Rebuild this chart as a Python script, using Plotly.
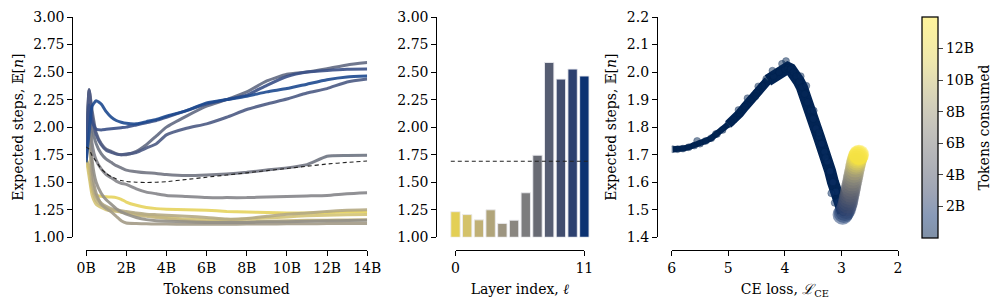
import plotly.graph_objects as go
import numpy as np

# ---------------- data ----------------
tokens_b = [0, 0.15, 0.3, 0.5, 0.75, 1, 1.25, 1.5, 1.75, 2, 2.5, 3, 3.5, 4, 5, 6, 7, 8, 9, 10, 11, 12, 13, 14]

layer0 = [1.72, 1.60, 1.42, 1.38, 1.372, 1.368, 1.365, 1.36, 1.345, 1.32, 1.29, 1.27, 1.26, 1.255, 1.25, 1.245, 1.235, 1.23, 1.225, 1.22, 1.22, 1.225, 1.23, 1.232]
layer1 = [1.72, 1.55, 1.38, 1.30, 1.27, 1.25, 1.24, 1.235, 1.23, 1.22, 1.21, 1.20, 1.19, 1.18, 1.165, 1.16, 1.16, 1.165, 1.175, 1.185, 1.195, 1.20, 1.205, 1.206]
layer2 = [1.70, 1.65, 1.45, 1.33, 1.29, 1.27, 1.25, 1.24, 1.23, 1.22, 1.20, 1.19, 1.18, 1.17, 1.15, 1.14, 1.14, 1.14, 1.145, 1.15, 1.155, 1.155, 1.157, 1.158]
layer3 = [1.72, 1.90, 1.50, 1.37, 1.31, 1.28, 1.26, 1.25, 1.24, 1.235, 1.22, 1.21, 1.205, 1.20, 1.19, 1.18, 1.165, 1.17, 1.19, 1.21, 1.22, 1.235, 1.245, 1.249]
layer4 = [1.70, 2.20, 1.60, 1.40, 1.30, 1.26, 1.23, 1.19, 1.15, 1.13, 1.125, 1.122, 1.12, 1.12, 1.118, 1.118, 1.118, 1.12, 1.12, 1.122, 1.122, 1.124, 1.125, 1.126]
layer5 = [1.70, 2.30, 1.70, 1.50, 1.40, 1.34, 1.30, 1.26, 1.23, 1.21, 1.18, 1.16, 1.15, 1.145, 1.14, 1.135, 1.135, 1.135, 1.14, 1.14, 1.145, 1.15, 1.152, 1.155]
layer6 = [1.70, 2.28, 1.85, 1.70, 1.62, 1.57, 1.54, 1.51, 1.49, 1.48, 1.44, 1.41, 1.395, 1.38, 1.37, 1.36, 1.36, 1.36, 1.365, 1.37, 1.375, 1.38, 1.395, 1.404]
layer7 = [1.72, 2.32, 2.00, 1.85, 1.76, 1.71, 1.68, 1.65, 1.63, 1.61, 1.595, 1.585, 1.58, 1.57, 1.56, 1.565, 1.575, 1.59, 1.61, 1.63, 1.66, 1.735, 1.742, 1.745]
layer8 = [1.75, 2.34, 2.15, 1.95, 1.85, 1.80, 1.78, 1.76, 1.75, 1.75, 1.78, 1.84, 1.92, 2.00, 2.10, 2.19, 2.25, 2.32, 2.42, 2.48, 2.50, 2.53, 2.565, 2.587]
layer9 = [1.74, 2.34, 2.10, 1.93, 1.84, 1.79, 1.77, 1.755, 1.75, 1.755, 1.77, 1.81, 1.85, 1.93, 1.99, 2.03, 2.09, 2.16, 2.21, 2.255, 2.31, 2.35, 2.41, 2.436]
layer10 = [1.72, 2.20, 2.05, 1.98, 1.975, 1.98, 1.985, 1.99, 1.995, 2.00, 2.02, 2.04, 2.06, 2.09, 2.15, 2.21, 2.25, 2.29, 2.38, 2.46, 2.50, 2.515, 2.525, 2.527]
layer11 = [1.68, 1.95, 2.19, 2.24, 2.21, 2.14, 2.09, 2.06, 2.045, 2.035, 2.03, 2.05, 2.07, 2.10, 2.15, 2.22, 2.25, 2.28, 2.32, 2.35, 2.39, 2.43, 2.455, 2.464]
mean_curve = [1.82, 1.80, 1.74, 1.69, 1.62, 1.58, 1.55, 1.53, 1.515, 1.506, 1.50, 1.497, 1.50, 1.505, 1.525, 1.545, 1.565, 1.585, 1.605, 1.625, 1.645, 1.665, 1.68, 1.692]
layer_curves = [layer0, layer1, layer2, layer3, layer4, layer5, layer6, layer7, layer8, layer9, layer10, layer11]

layers = list(range(12))
layer_steps = [1.232, 1.206, 1.158, 1.249, 1.126, 1.155, 1.404, 1.745, 2.587, 2.436, 2.527, 2.464]

# right panel: CE loss vs expected steps, coloured by tokens consumed (B)
dark_loss = [5.98, 5.90, 5.80, 5.70, 5.60, 5.50, 5.40, 5.30, 5.20, 5.10, 5.00, 4.90, 4.80, 4.70, 4.60, 4.50, 4.40, 4.30, 4.20, 4.10, 4.00, 3.95, 3.90, 3.85, 3.80, 3.75, 3.70, 3.65, 3.60, 3.55, 3.50, 3.45, 3.40, 3.35, 3.30, 3.25, 3.20, 3.15, 3.10, 3.05, 3.00, 2.97]
dark_steps = [1.720, 1.720, 1.722, 1.727, 1.733, 1.740, 1.750, 1.760, 1.775, 1.790, 1.810, 1.828, 1.850, 1.875, 1.900, 1.925, 1.950, 1.970, 1.985, 2.000, 2.010, 2.015, 2.010, 2.000, 1.985, 1.965, 1.945, 1.920, 1.890, 1.860, 1.830, 1.795, 1.765, 1.740, 1.710, 1.675, 1.640, 1.600, 1.565, 1.530, 1.505, 1.490]
dark_tokens = [0.02, 0.03, 0.04, 0.05, 0.06, 0.07, 0.08, 0.09, 0.10, 0.11, 0.12, 0.13, 0.14, 0.15, 0.16, 0.17, 0.18, 0.19, 0.20, 0.22, 0.24, 0.26, 0.28, 0.30, 0.33, 0.36, 0.39, 0.42, 0.46, 0.50, 0.55, 0.60, 0.66, 0.72, 0.79, 0.86, 0.94, 1.02, 1.11, 1.21, 1.32, 1.45]
# scattered outlying samples seen along the band edges
edge_loss = [5.55, 5.22, 4.95, 4.82, 4.66, 4.52, 4.47, 4.33, 4.22, 4.05, 3.98, 3.72, 3.62, 3.49, 3.40, 3.28, 3.18, 3.12, 3.02]
edge_steps = [1.750, 1.775, 1.818, 1.862, 1.905, 1.912, 1.948, 1.975, 2.005, 2.030, 2.040, 1.985, 1.950, 1.860, 1.780, 1.690, 1.560, 1.525, 1.515]
edge_tokens = [0.07, 0.09, 0.12, 0.13, 0.15, 0.17, 0.18, 0.19, 0.20, 0.23, 0.25, 0.37, 0.44, 0.56, 0.66, 0.80, 0.94, 1.08, 1.27]

rise_loss = [2.98, 2.96, 2.94, 2.92, 2.905, 2.89, 2.88, 2.87, 2.86, 2.85, 2.84, 2.83, 2.82, 2.81, 2.80, 2.79, 2.78, 2.77, 2.76, 2.75, 2.74, 2.73, 2.72, 2.71, 2.70, 2.69]
rise_steps = [1.482, 1.488, 1.495, 1.503, 1.513, 1.523, 1.533, 1.543, 1.553, 1.563, 1.573, 1.583, 1.593, 1.603, 1.613, 1.623, 1.633, 1.643, 1.653, 1.663, 1.671, 1.679, 1.686, 1.692, 1.697, 1.700]
rise_tokens = [1.6, 1.8, 2.0, 2.3, 2.6, 2.9, 3.2, 3.5, 3.9, 4.3, 4.7, 5.1, 5.6, 6.1, 6.6, 7.1, 7.7, 8.3, 8.9, 9.6, 10.3, 11.0, 11.7, 12.4, 13.1, 13.8]

token_ticks = [0, 2, 4, 6, 8, 10, 12, 14]
token_ticktext = ["0B", "2B", "4B", "6B", "8B", "10B", "12B", "14B"]
cbar_ticks = [2, 4, 6, 8, 10, 12]
cbar_ticktext = ["2B", "4B", "6B", "8B", "10B", "12B"]
steps_ticks = [1.0, 1.25, 1.5, 1.75, 2.0, 2.25, 2.5, 2.75, 3.0]
steps_ticktext = ["1.00", "1.25", "1.50", "1.75", "2.00", "2.25", "2.50", "2.75", "3.00"]
right_yticks = [1.4, 1.5, 1.6, 1.7, 1.8, 1.9, 2.0, 2.1, 2.2]
right_yticktext = ["1.4", "1.5", "1.6", "1.7", "1.8", "1.9", "2.0", "2.1", "2.2"]
loss_ticks = [6, 5, 4, 3, 2]

# ---------------- styles ----------------
layer_colors = ["#e3cf55", "#d4c26a", "#c0b075", "#b0a47a", "#9c9480", "#8a8680",
                "#7c7c7e", "#686a73", "#565d72", "#414d6e", "#2c406f", "#0c3272"]
line_colors = ["#e6d35e", "#d4c476", "#c4b680", "#b5aa84", "#a39c88", "#939088",
               "#85858a", "#727582", "#626a82", "#4e5c85", "#3a5088", "#1d4a90"]
cividis_a = [
    [0.0, "rgba(0,34,78,0.5)"], [0.1, "rgba(18,53,112,0.5)"], [0.2, "rgba(59,73,108,0.5)"],
    [0.3, "rgba(87,93,109,0.5)"], [0.4, "rgba(112,113,115,0.5)"], [0.5, "rgba(138,135,121,0.5)"],
    [0.6, "rgba(165,158,117,0.5)"], [0.7, "rgba(194,183,106,0.5)"], [0.8, "rgba(222,208,91,0.5)"],
    [0.9, "rgba(240,222,72,0.5)"], [1.0, "rgba(254,232,56,0.5)"]]

FONT = "DejaVu Serif"
W, H = 996, 304
def xd(a, b):
    return [a / W, b / W]
ydom = [(H - 242) / H, (H - 9.5) / H]
xline_pos = (H - 255) / H

fig = go.Figure()

# left panel
for i, curve in enumerate(layer_curves):
    fig.add_trace(go.Scatter(x=tokens_b, y=curve, mode="lines", xaxis="x", yaxis="y",
                             line=dict(color=line_colors[i], width=3, shape="spline", smoothing=0.5),
                             opacity=0.9, showlegend=False, hoverinfo="skip"))
fig.add_trace(go.Scatter(x=tokens_b, y=mean_curve, mode="lines", xaxis="x", yaxis="y",
                         line=dict(color="#222222", width=1.1, dash="4px,3px", shape="spline", smoothing=0.5),
                         showlegend=False, hoverinfo="skip"))

# middle panel
bar_w = 0.8
fig.add_trace(go.Bar(x=layers, y=[v - 1.0 for v in layer_steps], base=1.0, width=bar_w,
                     marker=dict(color=layer_colors, line=dict(color="rgba(235,235,240,0.9)", width=1)),
                     xaxis="x2", yaxis="y2", showlegend=False, hoverinfo="skip"))
mean_val = float(np.mean(layer_steps))
fig.add_trace(go.Scatter(x=[layers[0] - bar_w / 2, layers[-1] + bar_w / 2], y=[mean_val, mean_val],
                         mode="lines", line=dict(color="#222222", width=1.1, dash="4px,3px"),
                         xaxis="x2", yaxis="y2", showlegend=False, hoverinfo="skip"))
fig.add_trace(go.Scatter(x=[layers[0], layers[-1]], y=[None, None], mode="markers",
                         xaxis="x4", yaxis="y2", showlegend=False, hoverinfo="skip"))

# right panel: band underlay (thin at start, thicker after)
n_a, n_b = 11, 18
fig.add_trace(go.Scatter(x=dark_loss[:n_a], y=dark_steps[:n_a], mode="lines", xaxis="x3", yaxis="y3",
                         line=dict(color="rgb(2,36,84)", width=6), showlegend=False, hoverinfo="skip"))
fig.add_trace(go.Scatter(x=dark_loss[n_a - 1:n_b], y=dark_steps[n_a - 1:n_b], mode="lines", xaxis="x3", yaxis="y3",
                         line=dict(color="rgb(2,36,84)", width=9), showlegend=False, hoverinfo="skip"))
fig.add_trace(go.Scatter(x=dark_loss[n_b - 1:], y=dark_steps[n_b - 1:], mode="lines", xaxis="x3", yaxis="y3",
                         line=dict(color="rgb(2,36,84)", width=12), showlegend=False, hoverinfo="skip"))
fig.add_trace(go.Scatter(x=dark_loss + edge_loss, y=dark_steps + edge_steps, mode="markers", xaxis="x3", yaxis="y3",
                         marker=dict(size=7, color=dark_tokens + edge_tokens, colorscale=cividis_a, cmin=0, cmax=14,
                                     line=dict(width=0.6, color="rgba(0,34,78,0.5)")),
                         showlegend=False, hoverinfo="skip"))
fig.add_trace(go.Scatter(x=rise_loss, y=rise_steps, mode="markers", xaxis="x3", yaxis="y3",
                         marker=dict(size=20, color=rise_tokens, colorscale=cividis_a, cmin=0, cmax=14,
                                     line=dict(width=0),
                                     colorbar=dict(x=935 / W, xanchor="left", y=(H - 9.5) / H, yanchor="top",
                                                   len=(243 - 9.5) / H, lenmode="fraction",
                                                   thickness=16, thicknessmode="pixels",
                                                   xpad=0, ypad=0, outlinewidth=1.25, outlinecolor="black",
                                                   ticks="outside", ticklen=5, tickwidth=1.25,
                                                   tickvals=cbar_ticks, ticktext=cbar_ticktext,
                                                   tickfont=dict(family=FONT, size=14, color="black"),
                                                   title=dict(text="Tokens consumed", side="right",
                                                              font=dict(family=FONT, size=14, color="black")))),
                         showlegend=False, hoverinfo="skip"))

axis_common = dict(showgrid=False, zeroline=False, showline=True, linecolor="black", linewidth=1.25,
                   ticks="outside", ticklen=5, tickwidth=1.25, tickcolor="black",
                   tickfont=dict(family=FONT, size=14, color="black"))
title_font = dict(family=FONT, size=14, color="black")
ytitle = "Expected steps, 𝔼[<i>n</i>]"

fig.update_layout(
    width=W, height=H, margin=dict(l=0, r=0, t=0, b=0),
    paper_bgcolor="white", plot_bgcolor="rgba(0,0,0,0)",
    font=dict(family=FONT, size=14, color="black"),
    xaxis=dict(axis_common, range=[0, 14], domain=xd(78, 366), anchor="free", position=xline_pos,
               tickvals=token_ticks, ticktext=token_ticktext,
               title=dict(text="Tokens consumed", font=title_font, standoff=9)),
    yaxis=dict(axis_common, range=[1, 3], domain=ydom, anchor="free", position=64 / W,
               tickvals=steps_ticks, ticktext=steps_ticktext,
               title=dict(text=ytitle, font=title_font, standoff=5)),
    xaxis2=dict(range=[-0.99, 11.99], domain=xd(444.6, 600.4), anchor="y2", visible=False),
    yaxis2=dict(axis_common, range=[1, 3], domain=ydom, anchor="free", position=437 / W,
                tickvals=steps_ticks, ticktext=steps_ticktext),
    xaxis4=dict(axis_common, range=[0, 11], domain=xd(456.5, 588.5), anchor="free", position=xline_pos,
                tickvals=[layers[0], layers[-1]], ticktext=[str(layers[0]), str(layers[-1])],
                title=dict(text="Layer index, <i>ℓ</i>", font=title_font, standoff=9)),
    xaxis3=dict(axis_common, range=[6, 2], domain=xd(678, 910), anchor="free", position=xline_pos,
                tickvals=loss_ticks, ticktext=[str(v) for v in loss_ticks],
                title=dict(text="CE loss, <i>ℒ</i><sub>CE</sub>", font=title_font, standoff=9)),
    yaxis3=dict(axis_common, range=[1.4, 2.2], domain=ydom, anchor="free", position=663 / W,
                tickvals=right_yticks, ticktext=right_yticktext,
                title=dict(text=ytitle, font=title_font, standoff=5)),
)

fig.write_html("out.html")
